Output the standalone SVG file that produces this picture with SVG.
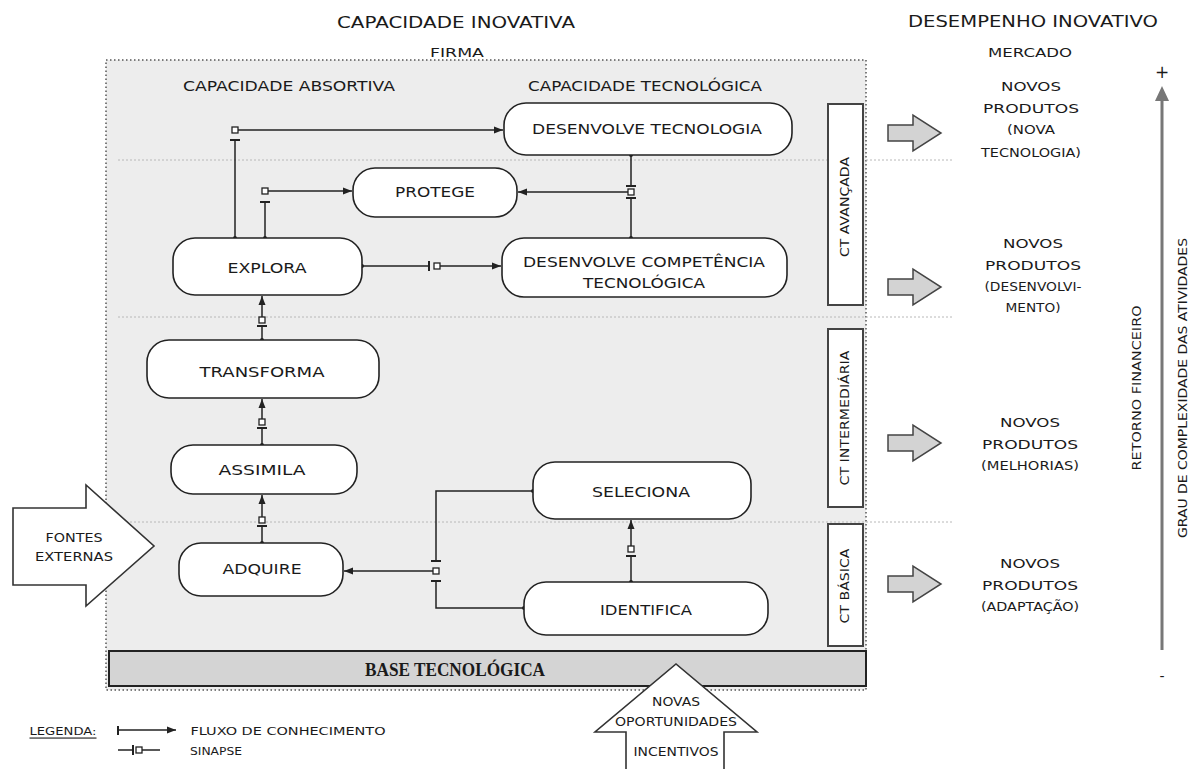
<svg xmlns="http://www.w3.org/2000/svg" width="1199" height="769" viewBox="0 0 1199 769">
<style>
text{font-family:"DejaVu Sans","Liberation Sans",sans-serif;fill:#1a1a1a;text-anchor:middle;dominant-baseline:central}
.t15{font-size:15px}.t14{font-size:14px}.t13{font-size:13px}.t12{font-size:12px}.t11{font-size:11px}
.node{fill:#fff;stroke:#222;stroke-width:1.6}
.ct{fill:#fff;stroke:#444;stroke-width:2}
.sep{stroke:#b8b8b8;stroke-width:1;stroke-dasharray:2 2;fill:none}
.ln{stroke:#222;stroke-width:1.5;fill:none}
.arr{marker-end:url(#ah)}
.st{marker-start:url(#dot)}
.sq{fill:#fff;stroke:#222;stroke-width:1.3}
.bar{stroke:#222;stroke-width:2}
.gra{fill:#d3d3d3;stroke:#444;stroke-width:1.5}
</style>
<defs>
<marker id="ah" markerUnits="userSpaceOnUse" markerWidth="10" markerHeight="10" viewBox="0 0 10 10" refX="9" refY="5" orient="auto"><path d="M0,1.5 L9,5 L0,8.5 Z" fill="#222"/></marker>
<marker id="dot" markerUnits="userSpaceOnUse" markerWidth="6" markerHeight="6" viewBox="0 0 6 6" refX="3" refY="3" orient="auto"><circle cx="3" cy="3" r="2" fill="#222"/></marker>
</defs>
<rect width="1199" height="769" fill="#fff"/>
<!-- firm area -->
<g id="firma">
<rect x="106" y="60" width="760" height="630" fill="#ededed" stroke="#555" stroke-width="1.5" stroke-dasharray="1.5 2.5"/>
</g>
<g id="separadores">
<line class="sep" x1="118" y1="160" x2="952" y2="160"/>
<line class="sep" x1="118" y1="317" x2="952" y2="317"/>
<line class="sep" x1="110" y1="522" x2="952" y2="522"/>
</g>
<g id="titulos">
<text class="t15" x="456" y="23" textLength="238" lengthAdjust="spacingAndGlyphs">CAPACIDADE INOVATIVA</text>
<text class="t13" x="457" y="52" textLength="54" lengthAdjust="spacingAndGlyphs">FIRMA</text>
<text class="t14" x="289" y="86" textLength="212" lengthAdjust="spacingAndGlyphs">CAPACIDADE ABSORTIVA</text>
<text class="t14" x="645" y="86" textLength="234" lengthAdjust="spacingAndGlyphs">CAPACIDADE TECNOLÓGICA</text>
<text class="t15" x="1033" y="22" textLength="250" lengthAdjust="spacingAndGlyphs">DESEMPENHO INOVATIVO</text>
<text class="t13" x="1030" y="52" textLength="84" lengthAdjust="spacingAndGlyphs">MERCADO</text>
</g>
<!-- connectors -->
<g id="conectores">
<path class="ln st" d="M235,238 V140"/><line class="bar" x1="230" y1="140" x2="240" y2="140"/><path class="ln arr" d="M238,130 H503"/><rect class="sq" x="232" y="127" width="6" height="6"/>
<path class="ln st" d="M265,238 V202"/><line class="bar" x1="260" y1="202" x2="270" y2="202"/><path class="ln arr" d="M268,191 H352"/><rect class="sq" x="262" y="188" width="6" height="6"/>
<path class="ln st" d="M362,266 H429"/><line class="bar" x1="429" y1="261" x2="429" y2="271"/><path class="ln arr" d="M440,266 H501"/><rect class="sq" x="434" y="263" width="6" height="6"/>
<path class="ln st" d="M631,155 V186"/><line class="bar" x1="626" y1="186" x2="636" y2="186"/><path class="ln st" d="M631,238 V198"/><line class="bar" x1="626" y1="198" x2="636" y2="198"/><path class="ln arr" d="M628,192 H518"/><rect class="sq" x="628" y="189" width="6" height="6"/>
<path class="ln st" d="M262,340 V326"/><line class="bar" x1="257" y1="326" x2="267" y2="326"/><path class="ln arr" d="M262,317 V296"/><rect class="sq" x="259" y="317" width="6" height="6"/>
<path class="ln st" d="M262,445 V428"/><line class="bar" x1="257" y1="428" x2="267" y2="428"/><path class="ln arr" d="M262,419 V399"/><rect class="sq" x="259" y="419" width="6" height="6"/>
<path class="ln st" d="M262,543 V526"/><line class="bar" x1="257" y1="526" x2="267" y2="526"/><path class="ln arr" d="M262,517 V495"/><rect class="sq" x="259" y="517" width="6" height="6"/>
<path class="ln st" d="M533,491 H436 V561"/><line class="bar" x1="431" y1="561" x2="441" y2="561"/><path class="ln st" d="M524,608 H436 V581"/><line class="bar" x1="431" y1="581" x2="441" y2="581"/><path class="ln arr" d="M433,571 H344"/><rect class="sq" x="433" y="568" width="6" height="6"/>
<path class="ln st" d="M631,582 V556"/><line class="bar" x1="626" y1="556" x2="636" y2="556"/><path class="ln arr" d="M631,546 V520"/><rect class="sq" x="628" y="546" width="6" height="6"/>
</g>
<!-- nodes -->
<g id="n-desenvolve-tecnologia"><rect class="node" x="504" y="103" width="288" height="52" rx="22"/><text class="t14" x="647" y="129" textLength="230" lengthAdjust="spacingAndGlyphs">DESENVOLVE TECNOLOGIA</text></g>
<g id="n-protege"><rect class="node" x="353" y="168" width="164" height="49" rx="22"/><text class="t14" x="435" y="192" textLength="80" lengthAdjust="spacingAndGlyphs">PROTEGE</text></g>
<g id="n-explora"><rect class="node" x="173" y="238" width="189" height="57" rx="22"/><text class="t14" x="267" y="268" textLength="79" lengthAdjust="spacingAndGlyphs">EXPLORA</text></g>
<g id="n-desenvolve-competencia"><rect class="node" x="502" y="238" width="285" height="59" rx="22"/><text class="t14" x="644" y="262" textLength="242" lengthAdjust="spacingAndGlyphs">DESENVOLVE COMPETÊNCIA</text><text class="t14" x="644" y="283" textLength="122" lengthAdjust="spacingAndGlyphs">TECNOLÓGICA</text></g>
<g id="n-transforma"><rect class="node" x="147" y="340" width="232" height="58" rx="22"/><text class="t14" x="262" y="372" textLength="125" lengthAdjust="spacingAndGlyphs">TRANSFORMA</text></g>
<g id="n-assimila"><rect class="node" x="171" y="445" width="186" height="49" rx="22"/><text class="t14" x="262" y="470" textLength="87" lengthAdjust="spacingAndGlyphs">ASSIMILA</text></g>
<g id="n-adquire"><rect class="node" x="179" y="543" width="164" height="53" rx="22"/><text class="t14" x="262" y="569" textLength="79" lengthAdjust="spacingAndGlyphs">ADQUIRE</text></g>
<g id="n-seleciona"><rect class="node" x="533" y="462" width="218" height="57" rx="22"/><text class="t14" x="641" y="492" textLength="98" lengthAdjust="spacingAndGlyphs">SELECIONA</text></g>
<g id="n-identifica"><rect class="node" x="524" y="582" width="244" height="53" rx="22"/><text class="t14" x="646" y="610" textLength="92" lengthAdjust="spacingAndGlyphs">IDENTIFICA</text></g>
<!-- CT levels -->
<g id="ct-avancada"><rect class="ct" x="828" y="104" width="35" height="201"/><text class="t12" transform="translate(845,207) rotate(-90)" textLength="100" lengthAdjust="spacingAndGlyphs">CT AVANÇADA</text></g>
<g id="ct-intermediaria"><rect class="ct" x="828" y="329" width="35" height="178"/><text class="t12" transform="translate(845,418) rotate(-90)" textLength="135" lengthAdjust="spacingAndGlyphs">CT INTERMEDIÁRIA</text></g>
<g id="ct-basica"><rect class="ct" x="828" y="524" width="35" height="122"/><text class="t12" transform="translate(845,586) rotate(-90)" textLength="75" lengthAdjust="spacingAndGlyphs">CT BÁSICA</text></g>
<!-- base -->
<g id="base-tecnologica"><rect x="109" y="651" width="757" height="35" fill="#d4d4d4" stroke="#222" stroke-width="2"/><text x="455" y="670" style="font-family:'Liberation Serif',serif;font-weight:bold;font-size:18px" textLength="180" lengthAdjust="spacingAndGlyphs">BASE TECNOLÓGICA</text></g>
<!-- external sources -->
<g id="fontes-externas"><path d="M13,508 H86 V485 L154,546 L86,606 V585 H13 Z" fill="#fff" stroke="#333" stroke-width="1.6"/><text class="t12" x="74" y="538" textLength="57" lengthAdjust="spacingAndGlyphs">FONTES</text><text class="t12" x="74" y="557" textLength="78" lengthAdjust="spacingAndGlyphs">EXTERNAS</text></g>
<g id="novas-oportunidades"><path d="M626,769 V732 H595 L676,664 L757,732 H724 V769" fill="#fff" stroke="#333" stroke-width="1.6"/><text class="t12" x="676" y="702" textLength="48" lengthAdjust="spacingAndGlyphs">NOVAS</text><text class="t12" x="676" y="722" textLength="122" lengthAdjust="spacingAndGlyphs">OPORTUNIDADES</text><text class="t12" x="676" y="752" textLength="85" lengthAdjust="spacingAndGlyphs">INCENTIVOS</text></g>
<!-- market outputs -->
<g id="saida-1"><path class="gra" d="M888,125 H913 V115 L941,133 L913,151 V141 H888 Z"/><text class="t13" x="1031" y="86" textLength="60" lengthAdjust="spacingAndGlyphs">NOVOS</text><text class="t13" x="1031" y="108" textLength="96" lengthAdjust="spacingAndGlyphs">PRODUTOS</text><text class="t13" x="1031" y="129" textLength="48" lengthAdjust="spacingAndGlyphs">(NOVA</text><text class="t13" x="1031" y="152" textLength="100" lengthAdjust="spacingAndGlyphs">TECNOLOGIA)</text></g>
<g id="saida-2"><path class="gra" d="M888,279 H913 V269 L941,287 L913,305 V295 H888 Z"/><text class="t13" x="1033" y="243" textLength="60" lengthAdjust="spacingAndGlyphs">NOVOS</text><text class="t13" x="1033" y="265" textLength="96" lengthAdjust="spacingAndGlyphs">PRODUTOS</text><text class="t13" x="1033" y="286" textLength="97" lengthAdjust="spacingAndGlyphs">(DESENVOLVI-</text><text class="t13" x="1033" y="307" textLength="55" lengthAdjust="spacingAndGlyphs">MENTO)</text></g>
<g id="saida-3"><path class="gra" d="M888,435 H913 V425 L941,443 L913,461 V451 H888 Z"/><text class="t13" x="1030" y="422" textLength="60" lengthAdjust="spacingAndGlyphs">NOVOS</text><text class="t13" x="1030" y="444" textLength="96" lengthAdjust="spacingAndGlyphs">PRODUTOS</text><text class="t13" x="1030" y="465" textLength="98" lengthAdjust="spacingAndGlyphs">(MELHORIAS)</text></g>
<g id="saida-4"><path class="gra" d="M888,576 H913 V566 L941,584 L913,602 V592 H888 Z"/><text class="t13" x="1030" y="563" textLength="60" lengthAdjust="spacingAndGlyphs">NOVOS</text><text class="t13" x="1030" y="585" textLength="96" lengthAdjust="spacingAndGlyphs">PRODUTOS</text><text class="t13" x="1030" y="606" textLength="98" lengthAdjust="spacingAndGlyphs">(ADAPTAÇÃO)</text></g>
<!-- axis -->
<g id="eixo"><line x1="1162" y1="650" x2="1162" y2="98" stroke="#777" stroke-width="3"/><path d="M1155,101 L1162,86 L1169,101 Z" fill="#777"/><text x="1162" y="72" style="font-size:17px">+</text><text x="1162" y="676" style="font-size:14px">-</text>
<text class="t12" transform="translate(1137,388) rotate(-90)" textLength="165" lengthAdjust="spacingAndGlyphs">RETORNO FINANCEIRO</text>
<text class="t12" transform="translate(1183,388) rotate(-90)" textLength="300" lengthAdjust="spacingAndGlyphs">GRAU DE COMPLEXIDADE DAS ATIVIDADES</text></g>
<!-- legend -->
<g id="legenda">
<text class="t11" x="63" y="731" textLength="67" lengthAdjust="spacingAndGlyphs" text-decoration="underline">LEGENDA:</text>
<line class="bar" x1="118" y1="726" x2="118" y2="735"/><path class="ln arr" d="M118,730 H176"/>
<text class="t11" x="288" y="731" textLength="195" lengthAdjust="spacingAndGlyphs">FLUXO DE CONHECIMENTO</text>
<path class="ln" d="M118,750 H133"/><line class="bar" x1="133" y1="745" x2="133" y2="755"/><rect class="sq" x="136" y="747" width="6" height="6"/><path class="ln" d="M142,750 H160"/>
<text class="t11" x="216" y="751" textLength="52" lengthAdjust="spacingAndGlyphs">SINAPSE</text>
</g>
</svg>
